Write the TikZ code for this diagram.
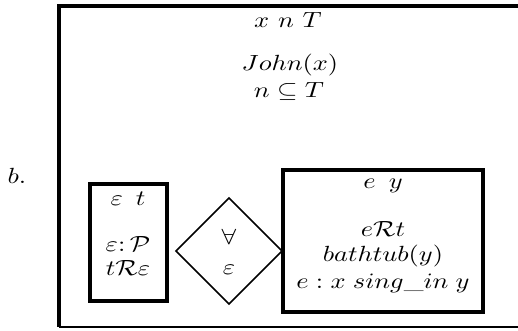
\documentclass[tikz,border=0pt]{standalone}
\begin{document}
\begin{tikzpicture}[x=1cm,y=1cm,line width=1.45pt,
  lbl/.style={inner sep=0pt,xscale=1.2}]
  \useasboundingbox (0,0) rectangle (8.288,5.296);
  % outer box, open on the right
  \coordinate (ne) at (8.288,5.2);
  \coordinate (nw) at (.944,5.2);
  \coordinate (sw) at (.944,.064);
  \coordinate (se) at (8.288,.064);
  \draw (ne)--(nw)--(sw);
  \draw[line width=.8pt] (sw)--(se);
  \node[lbl] (tag) at (.272,2.48) {$b.$};
  \node[lbl] (urefs) at (4.608,4.98) {$x\ n\ T$};
  \node[lbl] (ucond1) at (4.64,4.256) {$John(x)$};
  \node[lbl] (ucond2) at (4.624,3.84) {$n\subseteq T$};
  % restrictor box
  \draw (1.44,.48) rectangle (2.672,2.352);
  \node[lbl] (lrefs) at (2.048,2.112) {$\varepsilon\ \,t$};
  \node[lbl] (lcond1) at (2.048,1.392) {$\varepsilon{:}\,\mathcal{P}$};
  \node[lbl] (lcond2) at (2.048,1.008) {$t\mathcal{R}\varepsilon$};
  % duplex condition
  \coordinate (dq) at (3.664,1.28);
  \draw[line width=.7pt] (dq) ++(0,.848) -- ++(.848,-.848) -- ++(-.848,-.848)
    -- ++(-.848,.848) -- cycle;
  \node[lbl] (quant) at (3.664,1.504) {$\forall$};
  \node[lbl] (qvar) at (3.664,.976) {$\varepsilon$};
  % scope box
  \draw (4.528,.304) rectangle (7.728,2.576);
  \node[lbl] (rrefs) at (6.128,2.32) {$e\ \,y$};
  \node[lbl] (rcond1) at (6.128,1.632) {$e\mathcal{R}t$};
  \node[lbl] (rcond2) at (6.128,1.2) {$bathtub(y)$};
  \node[lbl] (rcond3) at (6.128,.768) {$e : x\;sing\_in\;y$};
\end{tikzpicture}
\end{document}
